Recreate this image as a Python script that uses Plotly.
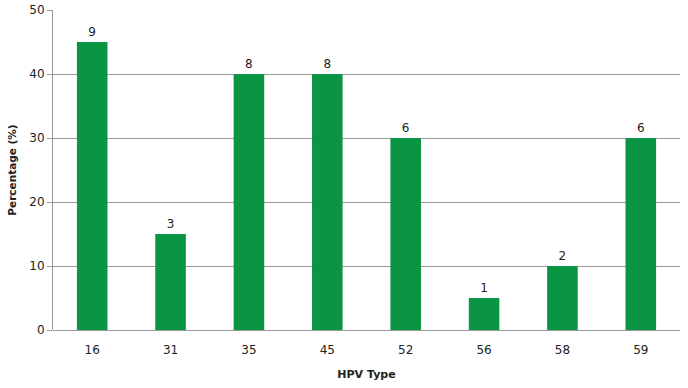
import plotly.graph_objects as go

hpv_types = ["16", "31", "35", "45", "52", "56", "58", "59"]
percentages = [45, 15, 40, 40, 30, 5, 10, 30]
counts = [9, 3, 8, 8, 6, 1, 2, 6]
y_ticks = [0, 10, 20, 30, 40, 50]

fig = go.Figure(go.Bar(
    x=hpv_types, y=percentages,
    text=[str(c) for c in counts], textposition="outside",
    textfont=dict(size=12, color="#222222", family="DejaVu Sans"),
    marker=dict(color="#0b9444", line=dict(width=0)),
    width=0.39, cliponaxis=False, hoverinfo="skip",
))

fig.update_layout(
    width=688, height=388,
    margin=dict(l=53, r=8, t=10, b=58),
    paper_bgcolor="white", plot_bgcolor="white",
    font=dict(family="DejaVu Sans", size=12, color="#222222"),
    showlegend=False,
    xaxis=dict(
        type="category", showgrid=False, showline=False,
        ticks="outside", ticklen=9, tickcolor="rgba(0,0,0,0)",
        automargin=False,
        tickfont=dict(size=12), title=dict(text="<b>HPV Type</b>", font=dict(size=11), standoff=13),
    ),
    yaxis=dict(
        range=[0, 50], tickvals=y_ticks, showgrid=True, gridcolor="#999999", gridwidth=1,
        showline=True, linecolor="#999999", linewidth=1,
        ticks="outside", ticklen=5, tickcolor="#999999",
        zeroline=True, zerolinecolor="#999999", zerolinewidth=1,
        automargin=False, ticklabeloverflow="allow",
        tickfont=dict(size=12),
        title=dict(text="<b>Percentage (%)</b>", font=dict(size=10.5), standoff=10),
    ),
)

fig.write_html("out.html", config={"displayModeBar": False},
               post_script="document.body.style.margin='0';")
